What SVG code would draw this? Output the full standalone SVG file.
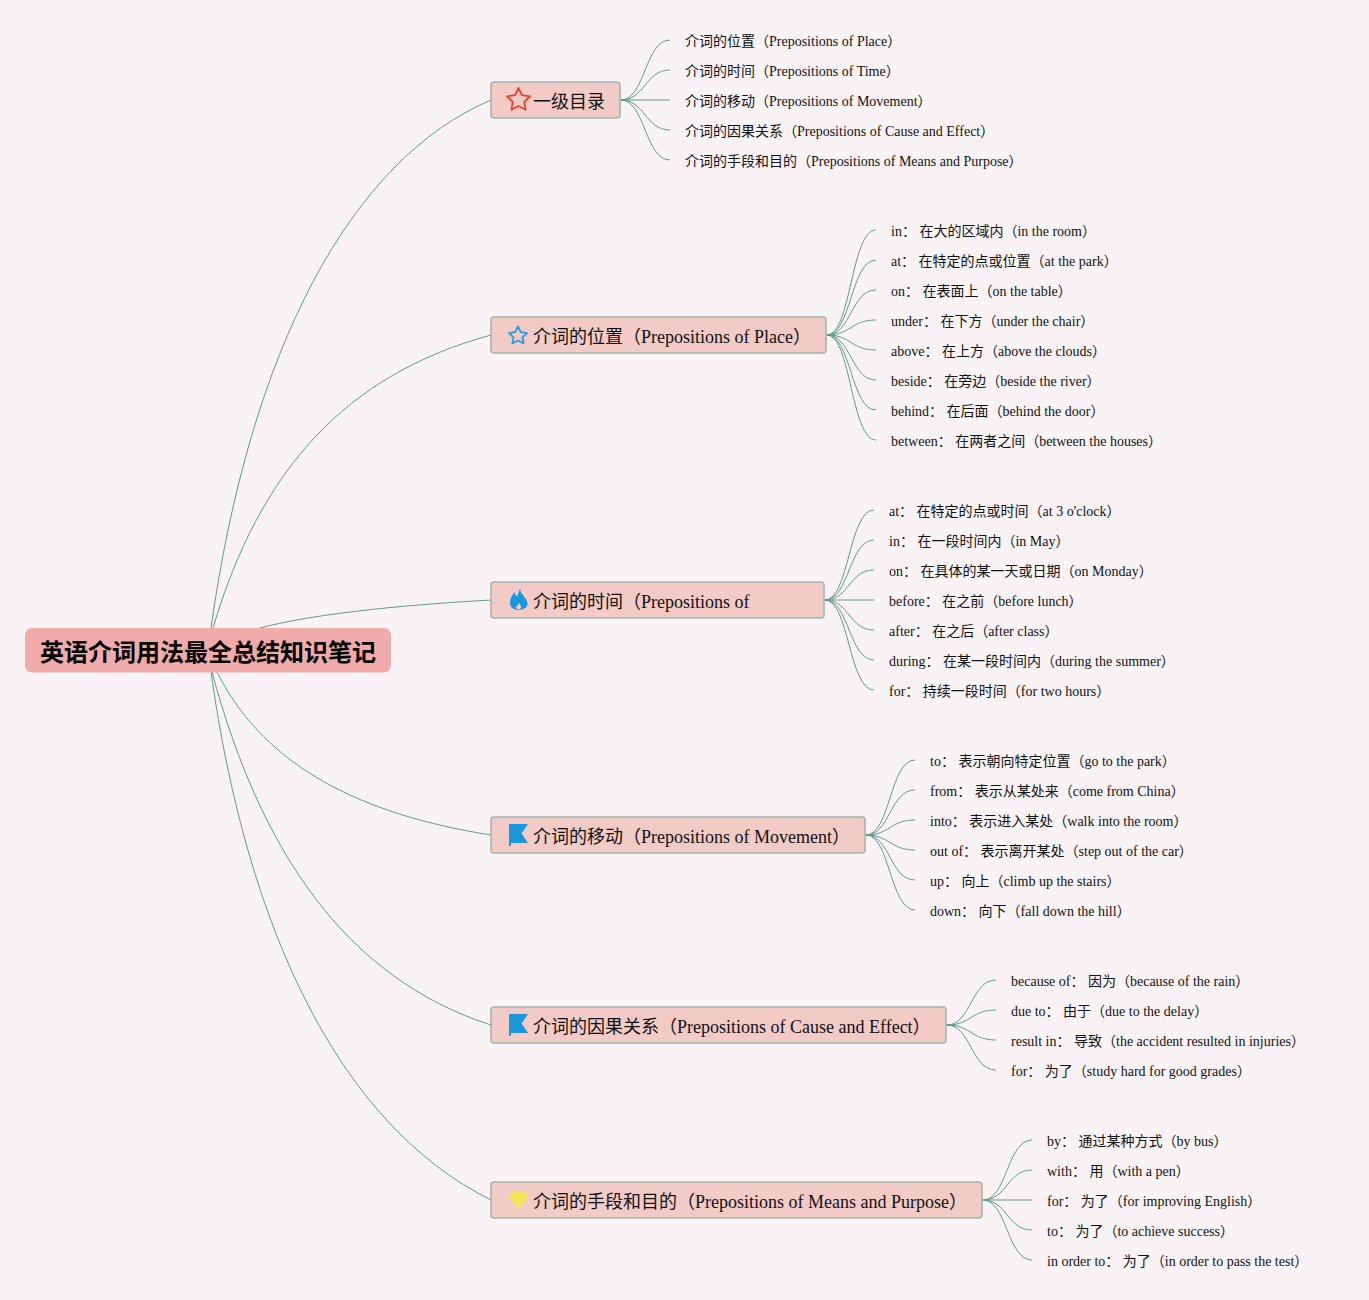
<svg xmlns="http://www.w3.org/2000/svg" width="1369" height="1300" viewBox="0 0 1369 1300">
<style>
text{font-family:"Liberation Serif","Noto Sans CJK SC",serif;fill:#111}
.leaf{font-size:14px}
.topic{font-size:18px}
.root{font-size:24px;font-weight:700;font-family:"Noto Sans CJK SC",sans-serif;fill:#000}
.box{fill:#f3cbc6;stroke:#9fb7ad;stroke-width:1.600}
#connectors path{fill:none;stroke:#5f9a88;stroke-width:1}
</style>
<defs>
<path id="flag" d="M0,0H19L12.500,9.500L19,19H2V22H0Z" fill="#1a96dc"/>
</defs>
<rect width="1369" height="1300" fill="#faf3f6"/>
<g id="connectors">
<path d="M211,628C250,350 350,160 491,100"/>
<path d="M213,628C260,470 345,375 491,335"/>
<path d="M260,628C320,612 420,604 491,600"/>
<path d="M217,672C260,757 345,812 491,835"/>
<path d="M212,672C260,850 345,978 491,1025"/>
<path d="M211,672C247,930 340,1125 491,1200"/>
<path d="M621,100C645,100 645,40 670,40"/>
<path d="M621,100C645,100 645,70 670,70"/>
<path d="M621,100H670"/>
<path d="M621,100C645,100 645,130 670,130"/>
<path d="M621,100C645,100 645,160 670,160"/>
<path d="M827,335C851,335 851,230 876,230"/>
<path d="M827,335C851,335 851,260 876,260"/>
<path d="M827,335C851,335 851,290 876,290"/>
<path d="M827,335C851,335 851,320 876,320"/>
<path d="M827,335C851,335 851,350 876,350"/>
<path d="M827,335C851,335 851,380 876,380"/>
<path d="M827,335C851,335 851,410 876,410"/>
<path d="M827,335C851,335 851,440 876,440"/>
<path d="M825,600C849,600 849,510 874,510"/>
<path d="M825,600C849,600 849,540 874,540"/>
<path d="M825,600C849,600 849,570 874,570"/>
<path d="M825,600H874"/>
<path d="M825,600C849,600 849,630 874,630"/>
<path d="M825,600C849,600 849,660 874,660"/>
<path d="M825,600C849,600 849,690 874,690"/>
<path d="M866,835C890,835 890,760 915,760"/>
<path d="M866,835C890,835 890,790 915,790"/>
<path d="M866,835C890,835 890,820 915,820"/>
<path d="M866,835C890,835 890,850 915,850"/>
<path d="M866,835C890,835 890,880 915,880"/>
<path d="M866,835C890,835 890,910 915,910"/>
<path d="M947,1025C971,1025 971,980 996,980"/>
<path d="M947,1025C971,1025 971,1010 996,1010"/>
<path d="M947,1025C971,1025 971,1040 996,1040"/>
<path d="M947,1025C971,1025 971,1070 996,1070"/>
<path d="M983,1200C1007,1200 1007,1140 1032,1140"/>
<path d="M983,1200C1007,1200 1007,1170 1032,1170"/>
<path d="M983,1200H1032"/>
<path d="M983,1200C1007,1200 1007,1230 1032,1230"/>
<path d="M983,1200C1007,1200 1007,1260 1032,1260"/>
</g>
<g id="root"><rect x="25" y="628" width="366" height="44.500" rx="7" fill="#f2abab"/><text class="root" x="40" y="661">英语介词用法最全总结知识笔记</text></g>
<g id="topic1"><rect class="box" x="491" y="82" width="129" height="36" rx="3"/><path d="M518.500,88L521.900,95.100L530,96.300L524.200,101.900L525.600,109.700L518.500,106L511.400,109.700L512.800,101.900L507,96.300L515.100,95.100Z" fill="none" stroke="#e8402e" stroke-width="1.800" stroke-linejoin="round"/><text class="topic" x="533" y="108">一级目录</text></g>
<g id="topic2"><rect class="box" x="491" y="317" width="335" height="36" rx="3"/><path d="M518,326.500L520.800,332.200L527,333.100L522.500,337.400L523.600,343.500L518,340.500L512.400,343.500L513.500,337.400L509,333.100L515.200,332.200Z" fill="none" stroke="#2b9ad8" stroke-width="1.800" stroke-linejoin="round"/><text class="topic" x="533" y="343">介词的位置（Prepositions of Place）</text></g>
<g id="topic3"><rect class="box" x="491" y="582" width="333" height="36" rx="3"/><path d="M520,589C521,595 527,598 527.500,603C528,607 524,610 519,610C513,610 509.500,607 510,601C510.500,597 513,595 514,592C515,594 516,596 517,596C518,594 519,592 520,589Z" fill="#1a96dc"/><path d="M519,603C520.500,605 521.500,606.500 521,608C520,609.800 517,609.800 516,608C515.700,606.500 518,605.500 519,603Z" fill="#f3cbc6"/><text class="topic" x="533" y="608">介词的时间（Prepositions of</text></g>
<g id="topic4"><rect class="box" x="491" y="817" width="374" height="36" rx="3"/><use href="#flag" x="509" y="824"/><text class="topic" x="533" y="843">介词的移动（Prepositions of Movement）</text></g>
<g id="topic5"><rect class="box" x="491" y="1007" width="455" height="36" rx="3"/><use href="#flag" x="509" y="1014"/><text class="topic" x="533" y="1033">介词的因果关系（Prepositions of Cause and Effect）</text></g>
<g id="topic6"><rect class="box" x="491" y="1182" width="491" height="36" rx="3"/><path d="M513,1191H524L528.500,1197L518.500,1209L509,1197Z" fill="#f7e35c"/><text class="topic" x="533" y="1208">介词的手段和目的（Prepositions of Means and Purpose）</text></g>
<g id="leaves1">
<g id="l1-1"><text class="leaf" x="685" y="46">介词的位置（Prepositions of Place）</text></g>
<g id="l1-2"><text class="leaf" x="685" y="76">介词的时间（Prepositions of Time）</text></g>
<g id="l1-3"><text class="leaf" x="685" y="106">介词的移动（Prepositions of Movement）</text></g>
<g id="l1-4"><text class="leaf" x="685" y="136">介词的因果关系（Prepositions of Cause and Effect）</text></g>
<g id="l1-5"><text class="leaf" x="685" y="166">介词的手段和目的（Prepositions of Means and Purpose）</text></g>
</g>
<g id="leaves2">
<g id="l2-1"><text class="leaf" x="891" y="236">in： 在大的区域内（in the room）</text></g>
<g id="l2-2"><text class="leaf" x="891" y="266">at： 在特定的点或位置（at the park）</text></g>
<g id="l2-3"><text class="leaf" x="891" y="296">on： 在表面上（on the table）</text></g>
<g id="l2-4"><text class="leaf" x="891" y="326">under： 在下方（under the chair）</text></g>
<g id="l2-5"><text class="leaf" x="891" y="356">above： 在上方（above the clouds）</text></g>
<g id="l2-6"><text class="leaf" x="891" y="386">beside： 在旁边（beside the river）</text></g>
<g id="l2-7"><text class="leaf" x="891" y="416">behind： 在后面（behind the door）</text></g>
<g id="l2-8"><text class="leaf" x="891" y="446">between： 在两者之间（between the houses）</text></g>
</g>
<g id="leaves3">
<g id="l3-1"><text class="leaf" x="889" y="516">at： 在特定的点或时间（at 3 o'clock）</text></g>
<g id="l3-2"><text class="leaf" x="889" y="546">in： 在一段时间内（in May）</text></g>
<g id="l3-3"><text class="leaf" x="889" y="576">on： 在具体的某一天或日期（on Monday）</text></g>
<g id="l3-4"><text class="leaf" x="889" y="606">before： 在之前（before lunch）</text></g>
<g id="l3-5"><text class="leaf" x="889" y="636">after： 在之后（after class）</text></g>
<g id="l3-6"><text class="leaf" x="889" y="666">during： 在某一段时间内（during the summer）</text></g>
<g id="l3-7"><text class="leaf" x="889" y="696">for： 持续一段时间（for two hours）</text></g>
</g>
<g id="leaves4">
<g id="l4-1"><text class="leaf" x="930" y="766">to： 表示朝向特定位置（go to the park）</text></g>
<g id="l4-2"><text class="leaf" x="930" y="796">from： 表示从某处来（come from China）</text></g>
<g id="l4-3"><text class="leaf" x="930" y="826">into： 表示进入某处（walk into the room）</text></g>
<g id="l4-4"><text class="leaf" x="930" y="856">out of： 表示离开某处（step out of the car）</text></g>
<g id="l4-5"><text class="leaf" x="930" y="886">up： 向上（climb up the stairs）</text></g>
<g id="l4-6"><text class="leaf" x="930" y="916">down： 向下（fall down the hill）</text></g>
</g>
<g id="leaves5">
<g id="l5-1"><text class="leaf" x="1011" y="986">because of： 因为（because of the rain）</text></g>
<g id="l5-2"><text class="leaf" x="1011" y="1016">due to： 由于（due to the delay）</text></g>
<g id="l5-3"><text class="leaf" x="1011" y="1046">result in： 导致（the accident resulted in injuries）</text></g>
<g id="l5-4"><text class="leaf" x="1011" y="1076">for： 为了（study hard for good grades）</text></g>
</g>
<g id="leaves6">
<g id="l6-1"><text class="leaf" x="1047" y="1146">by： 通过某种方式（by bus）</text></g>
<g id="l6-2"><text class="leaf" x="1047" y="1176">with： 用（with a pen）</text></g>
<g id="l6-3"><text class="leaf" x="1047" y="1206">for： 为了（for improving English）</text></g>
<g id="l6-4"><text class="leaf" x="1047" y="1236">to： 为了（to achieve success）</text></g>
<g id="l6-5"><text class="leaf" x="1047" y="1266">in order to： 为了（in order to pass the test）</text></g>
</g>
</svg>
